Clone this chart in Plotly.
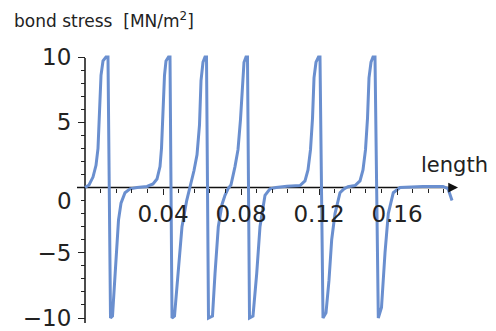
import plotly.graph_objects as go

# curve samples: position along the bar [m] and bond stress [MN/m^2]
length = [0, 0.00205, 0.0041, 0.00564, 0.00667, 0.00744, 0.00821, 0.00923, 0.01077, 0.01179,
          0.01308, 0.0141, 0.01487, 0.0159, 0.01718, 0.01846, 0.02051, 0.02308, 0.02667,
          0.0318, 0.03487, 0.03692, 0.03846, 0.03923, 0.04, 0.04077, 0.04154, 0.04282, 0.04359,
          0.04462, 0.0459, 0.04692, 0.04821, 0.04974, 0.05215, 0.05385,
          0.0559, 0.05744, 0.05872, 0.05949, 0.06051, 0.06154, 0.06231,
          0.06333, 0.06538, 0.06667, 0.06836, 0.07026, 0.07179, 0.07333,
          0.07487, 0.07692, 0.07846, 0.07974, 0.08077, 0.08154, 0.08256, 0.08333,
          0.08436, 0.08615, 0.08805, 0.08974, 0.09231, 0.09487, 0.09795,
          0.10359, 0.11026, 0.11282, 0.11436, 0.11564, 0.11667, 0.11744, 0.11846, 0.11974, 0.12051,
          0.12205, 0.12359, 0.12513, 0.12651, 0.12821, 0.13077, 0.13282,
          0.13487, 0.13846, 0.14103, 0.14256, 0.14385, 0.14487, 0.14564, 0.14667, 0.14769, 0.14872,
          0.15041, 0.15205, 0.15385, 0.15554, 0.1581, 0.16154,
          0.17333, 0.18359, 0.18615, 0.18821]
stress = [0, 0.2, 0.8, 1.7, 3.0, 5.6, 8.6, 9.7, 10, 10,
          -10, -9.85, -7.9, -5.2, -2.5, -1.2, -0.4, -0.1, 0,
          0.08, 0.27, 0.65, 1.6, 3.0, 5.6, 8.6, 9.7, 10, 10,
          -10, -9.85, -8.2, -5.6, -3.0, -1.0, 0,
          1.3, 2.5, 4.8, 8.2, 9.6, 10, 10,
          -10, -9.85, -6.6, -3.0, -1.3, -0.6, -0.1,
          0.2, 1.6, 2.9, 5.2, 8.4, 9.6, 10, 10,
          -10, -9.85, -6.6, -3.0, -0.6, -0.1, 0,
          0.1, 0.15, 0.5, 1.35, 2.9, 5.3, 8.4, 9.6, 10, 10,
          -10, -9.6, -7.1, -4.0, -2.0, -0.4, -0.1,
          0.06, 0.15, 0.5, 1.35, 2.9, 5.3, 8.4, 9.6, 10, 10,
          -10, -9.2, -5.0, -2.0, -0.4, 0,
          0.08, 0.08, -0.08, -1.0]

x_major = [0.04, 0.08, 0.12, 0.16]
x_major_text = ["0.04", "0.08", "0.12", "0.16"]
x_minor = [0.008, 0.016, 0.024, 0.032, 0.048, 0.056, 0.064, 0.072, 0.088, 0.096, 0.104,
           0.112, 0.128, 0.136, 0.144, 0.152, 0.168, 0.176, 0.184]
y_major = [-10, -5, 5, 10]
y_major_text = ["\u221210", "\u22125", "5", "10"]
y_minor = [-9, -8, -7, -6, -4, -3, -2, -1, 1, 2, 3, 4, 6, 7, 8, 9]

FONT = "DejaVu Sans"
TXT = "#222222"
X_RANGE = [-0.012821, 0.200513]
Y_RANGE = [-10.613, 11.303]
X_END, X_START = 0.1913, -0.0041
Y_END, Y_START = 10.42, -10.38

# the page body adds an 8 px margin, so the figure is drawn 8 px smaller
W, H = 488, 323
L, R, T, B = 52, 20, 32, 5
PW, PH = W - L - R, H - T - B

fig = go.Figure()
fig.add_trace(go.Scatter(x=length, y=stress, mode="lines",
                         line=dict(color="#6A8FCF", width=3), hoverinfo="skip"))

fig.update_layout(
    width=W, height=H,
    margin=dict(l=L, r=R, t=T, b=B, autoexpand=False),
    paper_bgcolor="white", plot_bgcolor="white",
    showlegend=False,
    font=dict(family=FONT, color=TXT),
    xaxis=dict(range=X_RANGE, anchor="free", position=(-Y_RANGE[0]) / (Y_RANGE[1] - Y_RANGE[0]),
               automargin=False, ticklabeloverflow="allow",
               showgrid=False, zeroline=False, showline=False,
               tickmode="array", tickvals=x_major, ticktext=x_major_text,
               ticks="outside", ticklen=6, tickwidth=1, tickcolor=TXT,
               tickfont=dict(size=23, family=FONT, color=TXT),
               ticklabelstandoff=0,
               minor=dict(tickmode="array", tickvals=x_minor, ticks="outside",
                          ticklen=4, tickwidth=1, tickcolor=TXT)),
    yaxis=dict(range=Y_RANGE, anchor="free", position=(-X_RANGE[0]) / (X_RANGE[1] - X_RANGE[0]),
               automargin=False, ticklabeloverflow="allow",
               showgrid=False, zeroline=False, showline=False,
               tickmode="array", tickvals=y_major, ticktext=y_major_text,
               ticks="outside", ticklen=7, tickwidth=1, tickcolor=TXT,
               tickfont=dict(size=23, family=FONT, color=TXT),
               ticklabelstandoff=2,
               minor=dict(tickmode="array", tickvals=y_minor, ticks="outside",
                          ticklen=4, tickwidth=1, tickcolor=TXT)),
)

# axis lines (below the curve)
fig.add_shape(type="line", xref="x", yref="y", x0=X_START, y0=0, x1=X_END - 0.002, y1=0,
              line=dict(color="#111111", width=1.5), layer="below")
fig.add_shape(type="line", xref="x", yref="y", x0=0, y0=Y_START, x1=0, y1=Y_END - 0.5,
              line=dict(color="#111111", width=1.5), layer="below")
# arrow heads
fig.add_annotation(x=X_END, y=0, ax=X_END - 0.004, ay=0, xref="x", yref="y",
                   axref="x", ayref="y", showarrow=True, arrowhead=2, arrowsize=1.3,
                   arrowwidth=1.5, arrowcolor="#111111", text=" ", standoff=0)
fig.add_annotation(x=0, y=Y_END, ax=0, ay=Y_END - 0.6, xref="x", yref="y",
                   axref="x", ayref="y", showarrow=True, arrowhead=2, arrowsize=1.3,
                   arrowwidth=1.5, arrowcolor="#111111", text=" ", standoff=0)

# origin label of the stress axis, set just below the length axis
fig.add_annotation(x=0, y=0, xref="x", yref="y", text="0", showarrow=False,
                   xanchor="right", yanchor="middle", xshift=-11, yshift=-13,
                   font=dict(size=23, family=FONT, color=TXT))

# axis titles
fig.add_annotation(xref="paper", yref="paper", x=-L / PW, y=1 + T / PH,
                   text="bond stress  [MN/m<sup>2</sup>]", showarrow=False,
                   xanchor="left", yanchor="top", xshift=5, borderpad=0,
                   font=dict(size=17, family=FONT, color=TXT))
fig.add_annotation(xref="x", yref="y", x=0.1915, y=0, text="length", showarrow=False,
                   xanchor="right", yanchor="bottom", yshift=9, xshift=32,
                   font=dict(size=21, family=FONT, color=TXT))

fig.write_html("out.html")
